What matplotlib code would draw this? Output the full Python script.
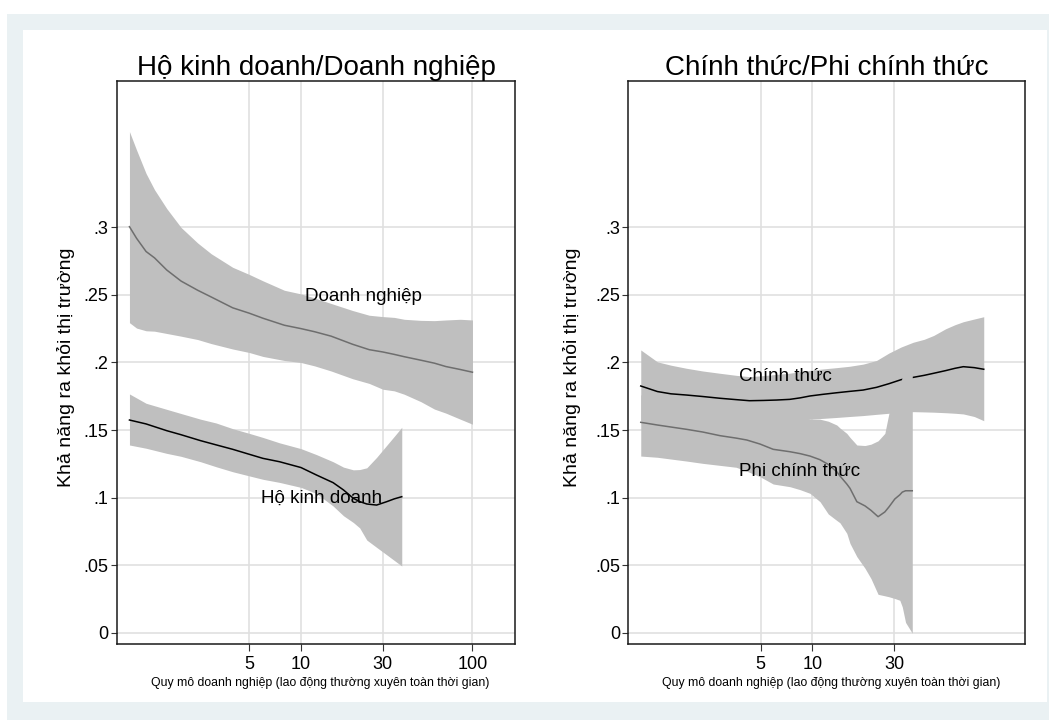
import matplotlib
matplotlib.use("Agg")
import matplotlib.pyplot as plt
from matplotlib.patches import Rectangle

plt.rcParams['font.family'] = ['Liberation Sans', 'DejaVu Sans']

# ---------------- data ----------------
# Left panel: household businesses vs. enterprises
dn_x = [1, 1.1, 1.25, 1.4, 1.65, 2, 2.5, 3, 4, 5, 6, 8, 10, 12, 15, 20, 25, 30, 35, 40, 50, 60, 70, 85, 100]
dn_mean = [0.3006, 0.292, 0.2822, 0.2775, 0.2685, 0.2603, 0.2535, 0.2485, 0.2405, 0.2365, 0.2328, 0.2276,
           0.2251, 0.2228, 0.2195, 0.2135, 0.2095, 0.2078, 0.2060, 0.2043, 0.2017, 0.1995, 0.1970, 0.1948, 0.1928]
dn_hi = [0.371, 0.3574, 0.340, 0.328, 0.314, 0.300, 0.2885, 0.2805, 0.2705, 0.2652, 0.2605, 0.2535,
         0.2508, 0.2478, 0.2437, 0.2385, 0.2350, 0.2340, 0.2334, 0.2320, 0.2312, 0.2310, 0.2315, 0.2320, 0.2315]
dn_lo = [0.2295, 0.2255, 0.2235, 0.2232, 0.2215, 0.2195, 0.2170, 0.2140, 0.2100, 0.2074, 0.2045, 0.2015,
         0.2000, 0.1975, 0.1937, 0.1880, 0.1845, 0.1802, 0.1790, 0.1765, 0.1710, 0.1655, 0.1625, 0.1580, 0.1543]

hkd_x = [1, 1.25, 1.65, 2, 2.6, 3.2, 4, 5, 6, 7.5, 10, 12.3, 15.4, 17.7, 20.2, 22, 24.2, 27.6, 31.6, 35, 38.7]
hkd_mean = [0.1574, 0.1545, 0.1495, 0.1465, 0.1421, 0.139, 0.1357, 0.132, 0.129, 0.1265, 0.1222, 0.1167,
            0.111, 0.1056, 0.0994, 0.097, 0.0952, 0.0944, 0.0969, 0.099, 0.1006]
hkd_hi = [0.1767, 0.1698, 0.1653, 0.1622, 0.158, 0.1552, 0.151, 0.1475, 0.1445, 0.1405, 0.1362, 0.1318,
          0.1265, 0.1225, 0.1205, 0.1207, 0.122, 0.1297, 0.1386, 0.1453, 0.152]
hkd_lo = [0.1389, 0.1365, 0.1327, 0.1305, 0.1265, 0.1228, 0.1191, 0.116, 0.1135, 0.1112, 0.1075, 0.1030,
          0.0937, 0.0865, 0.0815, 0.0775, 0.0685, 0.0631, 0.0576, 0.0534, 0.0493]

# Right panel: formal vs. informal
ct_x = [1, 1.25, 1.5, 1.85, 2.3, 2.9, 3.6, 4.3, 5.2, 6.2, 7.4, 8.5, 9.7, 11.5, 13.9, 16.5, 19.8, 23.7,
        28, 33, 38.8, 45, 51, 60, 68, 76, 88, 100]
ct_mean = [0.1826, 0.1785, 0.1768, 0.1759, 0.1748, 0.1735, 0.1725, 0.1717, 0.1719, 0.1722, 0.1727, 0.1738,
           0.1752, 0.1764, 0.1776, 0.1786, 0.1796, 0.1816, 0.1843, 0.1873, 0.189, 0.1905, 0.192, 0.1940,
           0.1957, 0.1969, 0.1962, 0.195]
ct_hi = [0.2093, 0.2005, 0.1980, 0.1957, 0.1937, 0.192, 0.1905, 0.1895, 0.1903, 0.1912, 0.1921, 0.1932,
         0.1942, 0.1952, 0.1962, 0.1972, 0.1988, 0.2015, 0.2070, 0.2115, 0.2150, 0.2172, 0.2200, 0.2250,
         0.2280, 0.2302, 0.2322, 0.2339]
ct_lo = [0.157, 0.1565, 0.156, 0.1558, 0.1555, 0.1552, 0.155, 0.155, 0.1552, 0.1556, 0.1565, 0.1573,
         0.158, 0.1586, 0.1593, 0.160, 0.1607, 0.1616, 0.1624, 0.1630, 0.1636, 0.1634, 0.1632, 0.1628,
         0.1624, 0.1619, 0.160, 0.1569]

pct_x = [1, 1.25, 1.85, 2.3, 2.9, 3.6, 4.15, 4.96, 5.92, 7.42, 8.5, 9.7, 11.1, 12.4, 13.9, 14.5, 15.9,
         16.6, 18.2, 20.3, 22, 24.2, 26.5, 28, 30.3, 32.4, 33.5, 35, 38.3]
pct_mean = [0.1557, 0.1537, 0.1505, 0.1485, 0.1458, 0.1440, 0.1426, 0.1396, 0.1357, 0.1339, 0.1325, 0.1307,
            0.1280, 0.1245, 0.1191, 0.1160, 0.1100, 0.1068, 0.0969, 0.0938, 0.0905, 0.0858, 0.0893, 0.0930,
            0.0989, 0.1020, 0.1040, 0.1050, 0.1050]
pct_hi = [0.176, 0.1745, 0.1715, 0.170, 0.1685, 0.167, 0.166, 0.1645, 0.163, 0.1615, 0.1598, 0.1580,
          0.1580, 0.1565, 0.1537, 0.1515, 0.1475, 0.1445, 0.1389, 0.1385, 0.1395, 0.1420, 0.1475, 0.1624,
          0.175, 0.183, 0.1895, 0.196, 0.205]
pct_lo = [0.1307, 0.1298, 0.1270, 0.1253, 0.1238, 0.1224, 0.1195, 0.1154, 0.1100, 0.1080, 0.1058, 0.1031,
          0.0969, 0.0878, 0.0830, 0.0813, 0.0735, 0.0660, 0.0562, 0.0476, 0.0400, 0.0283, 0.0272, 0.0265,
          0.0252, 0.0239, 0.0190, 0.0075, -0.0005]

y_ticks = [0, 0.05, 0.1, 0.15, 0.2, 0.25, 0.3]
y_ticklabels = ["0", ".05", ".1", ".15", ".2", ".25", ".3"]
x_ticks_left = [5, 10, 30, 100]
x_ticks_right = [5, 10, 30]

title_left = "Hộ kinh doanh/Doanh nghiệp"
title_right = "Chính thức/Phi chính thức"
y_title = "Khả năng ra khỏi thị trường"
x_title = "Quy mô doanh nghiệp (lao động thường xuyên toàn thời gian)"

# ---------------- styling ----------------
BAND = "#bfbfbf"
GRAY_LINE = "#6e6e6e"
BLACK = "#000000"
GRID = "#e0e0e0"
FRAME_BG = "#eaf1f3"

W, H = 1049, 720
fig = plt.figure(figsize=(W / 100, H / 100), dpi=100)
fig.patch.set_facecolor("white")

# outer graph region and inner white plot area
fig.add_artist(Rectangle((7 / W, 0), (W - 7) / W, (H - 14) / H, transform=fig.transFigure,
                         facecolor=FRAME_BG, edgecolor="none", zorder=-10))
fig.add_artist(Rectangle((23 / W, 18 / H), 1024 / W, 672 / H, transform=fig.transFigure,
                         facecolor="white", edgecolor="none", zorder=-9))

ax1 = fig.add_axes([117 / W, 1 - 644 / H, (515 - 117) / W, (644 - 81) / H])
ax2 = fig.add_axes([628.3 / W, 1 - 644 / H, (1025 - 628.3) / W, (644 - 81) / H])


def style_axes(ax, xticks, xlim):
    ax.set_xscale("log")
    ax.set_xlim(*xlim)
    ax.set_ylim(-0.0085, 0.4085)
    ax.set_xticks(xticks)
    ax.set_xticklabels([str(t) for t in xticks])
    ax.xaxis.set_minor_locator(matplotlib.ticker.NullLocator())
    ax.set_yticks(y_ticks)
    ax.set_yticklabels(y_ticklabels)
    ax.grid(True, color=GRID, linewidth=1.2, zorder=0)
    ax.set_axisbelow(True)
    for s in ax.spines.values():
        s.set_color("#1a1a1a")
        s.set_linewidth(1.1)
    ax.tick_params(axis="both", direction="out", width=0.8, color="#333333")
    ax.tick_params(axis="y", length=4.5, pad=1.5, labelsize=13)
    ax.tick_params(axis="x", length=5, pad=3.7, labelsize=13)


style_axes(ax1, x_ticks_left, (0.846, 177))
style_axes(ax2, x_ticks_right, (0.846, 174))

LW = 1.1

# left panel
ax1.fill_between(dn_x, dn_lo, dn_hi, color=BAND, linewidth=0, zorder=2)
ax1.plot(dn_x, dn_mean, color=GRAY_LINE, linewidth=LW, zorder=3)
ax1.fill_between(hkd_x, hkd_lo, hkd_hi, color=BAND, linewidth=0, zorder=4)
ax1.plot(hkd_x, hkd_mean, color=BLACK, linewidth=LW, zorder=5)
ax1.text(10.5, 0.2487, "Doanh nghiệp", fontsize=13.5, ha="left", va="center", zorder=6)
ax1.text(5.85, 0.0994, "Hộ kinh doanh", fontsize=13.5, ha="left", va="center", zorder=6)

# right panel
ax2.fill_between(ct_x, ct_lo, ct_hi, color=BAND, linewidth=0, zorder=2)
ax2.plot(ct_x, ct_mean, color=BLACK, linewidth=LW, zorder=3)
ax2.fill_between(pct_x, pct_lo, pct_hi, color=BAND, linewidth=0, zorder=4)
ax2.plot(pct_x, pct_mean, color=GRAY_LINE, linewidth=LW, zorder=5)
ax2.text(3.75, 0.1895, "Chính thức", fontsize=13.5, ha="left", va="center", zorder=6)
ax2.text(3.75, 0.1191, "Phi chính thức", fontsize=13.5, ha="left", va="center", zorder=6)

ax1.set_title(title_left, fontsize=20, pad=4.3)
ax2.set_title(title_right, fontsize=20, pad=4.3)

for cx in (66, 572):
    fig.text(cx / W, 1 - 367.5 / H, y_title, rotation=90, ha="center", va="center", fontsize=14)
for cx in (320, 831):
    fig.text(cx / W, 1 - 683 / H, x_title, ha="center", va="center", fontsize=8.8)

fig.savefig("out.png", dpi=100, facecolor=fig.get_facecolor())
